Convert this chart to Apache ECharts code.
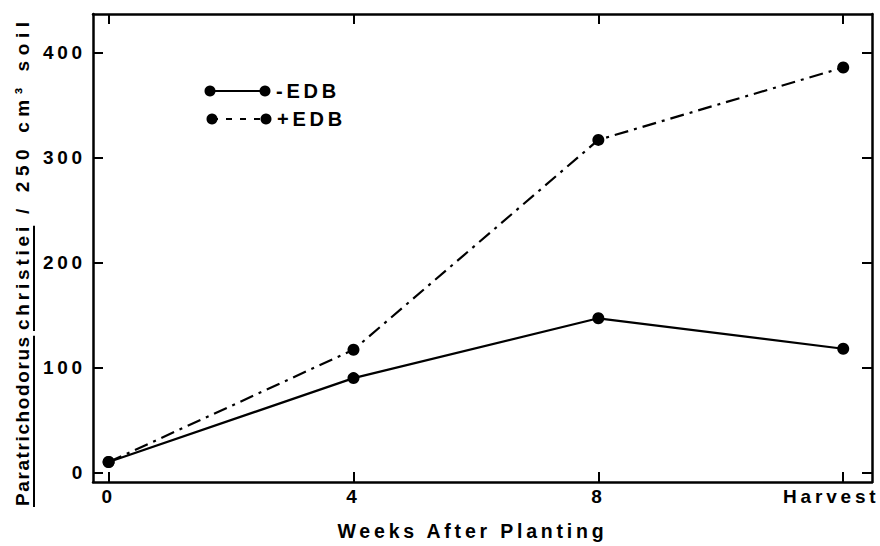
<!DOCTYPE html>
<html>
<head>
<meta charset="utf-8">
<script src="https://cdn.jsdelivr.net/npm/echarts@6/dist/echarts.min.js"></script>
<style>
  html, body { margin: 0; padding: 0; background: #fff; }
  #main { width: 880px; height: 546px; letter-spacing: 3.8px; }
</style>
</head>
<body>
<div id="main"></div>
<script>
// ---- data ----
const weeks = [0, 4, 8, 12];                 // 12 = Harvest position
const xTickLabels = ['0', '4', '8', 'Harvest'];
const minusEDB = [10, 90, 147, 118];
const plusEDB = [10, 117, 317, 386];
const yTicks = [0, 100, 200, 300, 400];
const seriesNames = ['-EDB', '+EDB'];
const titleParts = ['Paratrichodorus', 'christiei', '/ 250 cm³ soil'];

const FONT = '"Liberation Sans", Arial, Helvetica, sans-serif';
const SPACING = 3.8;
const TITLE_FONT = 'bold 19px ' + FONT;
// letter spacing and start (bottom) position of each title piece
const titleSpacing = [1.6, 3.8, 5.6];
const titleStart = [506, 330, 214];

function pairs(xs, ys) { return xs.map((x, i) => [x, ys[i]]); }

const mctx = document.createElement('canvas').getContext('2d');
function textW(t, font, sp) { mctx.font = font; return mctx.measureText(t).width + t.length * sp; }

const ulX = 34;
const titleGraphics = [];
titleParts.forEach((t, i) => {
  titleGraphics.push({
    type: 'text', x: 22, y: titleStart[i], rotation: Math.PI / 2,
    style: { text: t, fill: '#000', font: TITLE_FONT, textAlign: 'left', textVerticalAlign: 'middle' }
  });
  if (i < 2) {
    const w = textW(t, TITLE_FONT, titleSpacing[i]) - titleSpacing[i];
    titleGraphics.push({ type: 'line', shape: { x1: ulX, y1: titleStart[i] + 1, x2: ulX, y2: titleStart[i] - w - 1 }, style: { stroke: '#000', lineWidth: 2 } });
  }
});

const chart = echarts.init(document.getElementById('main'), null, { renderer: 'svg' });

const axisLineStyle = { color: '#000', width: 2.5 };
const tickStyle = { show: true, inside: true, length: 10, lineStyle: { color: '#000', width: 2 } };

const option = {
  backgroundColor: '#fff',
  animation: false,
  grid: { left: 93, right: 8, top: 14, bottom: 56, containLabel: false },
  xAxis: [
    {
      type: 'value', position: 'bottom', min: -0.255, max: 12.47,
      axisLine: { show: true, onZero: false, lineStyle: axisLineStyle },
      axisTick: Object.assign({ customValues: weeks }, tickStyle),
      splitLine: { show: false },
      axisLabel: {
        customValues: weeks, margin: 5, color: '#000', fontFamily: FONT, fontWeight: 'bold', fontSize: 19,
        formatter: v => { const i = weeks.indexOf(v); const t = xTickLabels[i]; return i === weeks.length - 1 ? '{h|' + t + '}' : t; },
        rich: { h: { fontFamily: FONT, fontWeight: 'bold', fontSize: 19, color: '#000', padding: [0, 24, 0, 0] } }
      },
      name: 'Weeks After Planting', nameLocation: 'middle', nameGap: 39,
      nameTextStyle: { color: '#000', fontFamily: FONT, fontWeight: 'bold', fontSize: 19.5, padding: [0, 20, 0, 0] }
    },
    {
      type: 'value', position: 'top', min: -0.255, max: 12.47,
      axisLine: { show: true, onZero: false, lineStyle: axisLineStyle },
      axisTick: Object.assign({ customValues: weeks }, tickStyle),
      axisLabel: { show: false }, splitLine: { show: false }
    }
  ],
  yAxis: [
    {
      type: 'value', position: 'left', min: -9, max: 437,
      axisLine: { show: true, onZero: false, lineStyle: axisLineStyle },
      axisTick: Object.assign({ customValues: yTicks }, tickStyle),
      splitLine: { show: false },
      axisLabel: { customValues: yTicks, margin: 7, color: '#000', fontFamily: FONT, fontWeight: 'bold', fontSize: 19 }
    },
    {
      type: 'value', position: 'right', min: -9, max: 437,
      axisLine: { show: true, onZero: false, lineStyle: axisLineStyle },
      axisTick: Object.assign({ customValues: yTicks }, tickStyle),
      axisLabel: { show: false }, splitLine: { show: false }
    }
  ],
  series: [
    {
      name: seriesNames[0], type: 'line', xAxisIndex: 0, yAxisIndex: 0,
      data: pairs(weeks, minusEDB),
      symbol: 'circle', symbolSize: 12,
      itemStyle: { color: '#000' },
      lineStyle: { color: '#000', width: 2.2, type: 'solid' }
    },
    {
      name: seriesNames[1], type: 'line', xAxisIndex: 0, yAxisIndex: 0,
      data: pairs(weeks, plusEDB),
      symbol: 'circle', symbolSize: 12,
      itemStyle: { color: '#000' },
      lineStyle: { color: '#000', width: 2.2, type: [14, 6, 3, 6] }
    }
  ],
  graphic: titleGraphics.concat([
    // legend
    { type: 'line', shape: { x1: 210, y1: 91, x2: 265, y2: 91 }, style: { stroke: '#000', lineWidth: 2 } },
    { type: 'circle', shape: { cx: 210, cy: 91, r: 5.5 }, style: { fill: '#000' } },
    { type: 'circle', shape: { cx: 265, cy: 91, r: 5.5 }, style: { fill: '#000' } },
    { type: 'text', x: 276, y: 91, style: { text: seriesNames[0], fill: '#000', font: 'bold 20px ' + FONT, textVerticalAlign: 'middle' } },
    { type: 'line', shape: { x1: 212, y1: 119, x2: 266, y2: 119 }, style: { stroke: '#000', lineWidth: 2, lineDash: [6, 8] } },
    { type: 'circle', shape: { cx: 212, cy: 119, r: 5.5 }, style: { fill: '#000' } },
    { type: 'circle', shape: { cx: 266, cy: 119, r: 5.5 }, style: { fill: '#000' } },
    { type: 'text', x: 277, y: 119, style: { text: seriesNames[1], fill: '#000', font: 'bold 20px ' + FONT, textVerticalAlign: 'middle' } }
  ])
};

function applyTitleSpacing() {
  document.querySelectorAll('#main text').forEach(el => {
    const i = titleParts.indexOf(el.textContent);
    if (i >= 0) el.style.letterSpacing = titleSpacing[i] + 'px';
  });
}
chart.on('finished', applyTitleSpacing);
chart.setOption(option);
applyTitleSpacing();
setTimeout(applyTitleSpacing, 50);
</script>
</body>
</html>
